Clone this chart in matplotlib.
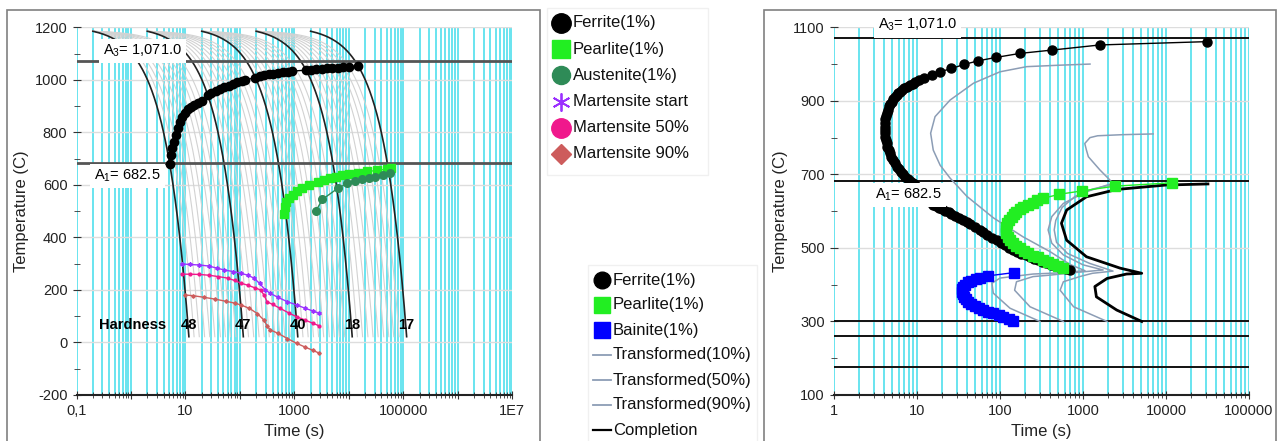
import numpy as np
import matplotlib
matplotlib.use("Agg")
import matplotlib.pyplot as plt
from matplotlib.lines import Line2D
from matplotlib.patches import Rectangle
from matplotlib.ticker import FixedLocator, FuncFormatter, LogLocator, MultipleLocator

plt.rcParams["font.family"] = ["Liberation Sans", "DejaVu Sans"]
plt.rcParams["mathtext.default"] = "regular"
plt.rcParams["axes.unicode_minus"] = False

# ---------------- data: CCT diagram (left) ----------------
a3_temp = 1071.0
a1_temp = 682.5

cool_start_temp = 1185
cool_end_temp = 22
cool_start_time = [0.2, 2, 20, 200, 2000]          # s
black_rates = [102, 10.2, 1.02, 0.102, 0.0102]      # C/s
fan_ratio = [0.8, 0.64, 0.51, 0.41, 0.33, 0.26, 0.21, 0.17, 0.135]
hardness = [48, 47, 40, 18, 17]

cct_ferrite_time = [5.3, 5.5, 5.8, 6.2, 6.7, 7.3, 8.0, 8.8, 9.8, 11, 12.5, 14.5, 17, 20,
                    25.9, 30, 36, 43, 52, 62, 75, 90, 108, 125,
                    194, 230, 280, 340, 410, 500, 620, 760, 900,
                    1660, 2000, 2500, 3200, 4000, 5000, 6300, 8000, 10000, 15000]
cct_ferrite_temp = [680, 712, 740, 765, 790, 815, 838, 858, 875, 888, 897, 905, 912, 920,
                    941, 950, 958, 965, 972, 978, 984, 990, 996, 1000,
                    1008, 1013, 1017, 1021, 1024, 1027, 1029, 1031, 1033,
                    1037, 1039, 1041, 1043, 1044, 1045, 1046, 1047, 1048, 1052]

cct_pearlite_time = [640, 680, 720, 800, 950, 1100, 1400, 1900, 2700, 3500, 4500, 5800,
                     7500, 10000, 15000, 22000, 33000, 50000, 60000]
cct_pearlite_temp = [490, 515, 535, 550, 562, 575, 590, 600, 611, 618, 625, 630,
                     636, 641, 646, 651, 655, 660, 665]

cct_austenite_time = [2500, 3300, 6300, 9500, 13000, 17800, 24000, 31000, 42000, 57000]
cct_austenite_temp = [501, 545, 587, 606, 614, 621, 627, 631, 638, 644]

ms_time = [8.5, 12, 18, 27, 38, 52, 75, 104, 140, 182, 230, 295, 363, 500, 750, 1100, 1600, 2200, 2900]
ms_temp = [299, 297, 295, 291, 283, 276, 270, 264, 256, 245, 225, 200, 187, 172, 155, 143, 130, 120, 111]
m50_time = [8.5, 12, 18, 27, 40, 60, 80, 104, 140, 190, 240, 280, 316, 400, 550, 800, 1100, 1600, 2200, 2900]
m50_temp = [260, 260, 259, 256, 251, 245, 236, 226, 218, 208, 200, 180, 155, 145, 130, 112, 98, 85, 73, 63]
m90_time = [9.8, 14, 22, 35, 55, 80, 104, 150, 210, 275, 320, 363, 500, 750, 1100, 1600, 2200, 2900]
m90_temp = [181, 178, 172, 165, 157, 150, 143, 130, 110, 86, 62, 48, 35, 15, -3, -18, -30, -41]

# ---------------- data: TTT diagram (right) ----------------
ttt_hlines = [300, 260, 175]

ttt_ferrite_time = [31000, 1600, 420, 174, 89, 55, 37, 26, 19, 15,
                    12, 10.5, 9.5, 8.9, 8.3, 7.5, 7.0, 6.6, 6.3, 5.96,
                    5.7, 5.4, 5.2, 4.95, 4.75, 4.6, 4.45, 4.3, 4.2, 4.15,
                    4.1, 4.08, 4.08, 4.1, 4.12, 4.2, 4.3, 4.4, 4.55, 4.7,
                    4.9, 5.1, 5.4, 5.7, 6.0, 6.4, 6.8, 7.2, 7.8, 8.3,
                    8.9, 9.5, 10.3, 11, 11.8, 12.6, 13.5, 14.4, 15.7, 17,
                    18.5, 20, 22, 24, 26, 29, 32, 36, 40, 44,
                    50, 57, 63, 70, 80, 91, 102, 115, 130, 145,
                    162, 180, 205, 229, 255, 290, 325, 363, 410, 470,
                    510, 560, 620, 700]
ttt_ferrite_temp = [1061, 1052, 1038, 1029, 1018, 1009, 999, 988, 979, 970,
                    961, 956, 952, 947, 943, 938, 934, 929, 925, 920,
                    915, 910, 904, 898, 892, 885, 876, 866, 858, 850,
                    840, 830, 821, 812, 803, 793, 784, 775, 766, 757,
                    748, 740, 730, 721, 714, 707, 700, 694, 688, 682,
                    676, 671, 663, 655, 648, 640, 632, 625, 617, 613,
                    609, 605, 601, 597, 592, 588, 582, 576, 570, 564,
                    557, 549, 543, 536, 528, 521, 514, 507, 500, 494,
                    489, 484, 480, 476, 471, 467, 462, 458, 454, 450,
                    447, 445, 442, 440]

ttt_pearlite_time = [11700, 2430, 966, 520, 333, 280, 248, 215, 190, 172,
                     158, 147, 138, 129, 122, 119, 117, 119, 125, 133,
                     145, 158, 174, 195, 220, 252, 290, 333, 380, 440,
                     505, 580]
ttt_pearlite_temp = [677, 668, 655, 646, 635, 629, 623, 617, 612, 605,
                     598, 592, 585, 576, 567, 558, 549, 540, 531, 522,
                     513, 506, 499, 492, 485, 479, 474, 468, 463, 457,
                     451, 445]

ttt_bainite_time = [149, 72, 57, 51, 45, 41.5, 38, 36, 35, 34.5, 35.5, 36.8, 39, 41.5,
                    45, 50, 56, 63, 72, 83, 96, 110, 127, 145]
ttt_bainite_temp = [433, 424, 419, 415, 410, 406, 400, 395, 388, 381, 374, 367, 360, 354,
                    348, 342, 336, 331, 326, 322, 317, 313, 307, 302]

t10_time = [1215, 530, 210, 100, 48, 25, 16.5, 14.6, 15.7, 19, 25, 40, 83, 190, 400, 700,
            1057, 500, 250, 100, 80, 83, 132, 303]
t10_temp = [1000, 997, 993, 979, 948, 902, 857, 812, 766, 725, 690, 640, 582, 530, 490, 455,
            438, 432, 429, 418, 404, 377, 336, 300]
t50_time = [7000, 3000, 1500, 1215, 1050, 1100, 1160, 1600, 2300, 1100, 580, 420, 380, 420,
            580, 1000, 1750, 800, 400, 250, 158, 150, 230, 580]
t50_temp = [810, 808, 805, 800, 784, 766, 748, 712, 676, 653, 621, 585, 549, 513,
            481, 454, 440, 433, 426, 422, 408, 385, 340, 300]
t90_time = [2400, 1300, 800, 560, 470, 450, 480, 650, 1200, 2300, 1300, 912, 580, 530, 770, 1950]
t90_temp = [674, 660, 640, 610, 575, 549, 515, 485, 458, 437, 431, 422, 408, 385, 340, 300]
done_time = [32000, 10000, 2550, 1100, 635, 550, 635, 1100, 2800, 5100, 3350, 1950, 1390,
             1450, 2550, 5100]
done_temp = [674, 671, 659, 639, 603, 567, 521, 476, 445, 431, 429, 417, 395, 367, 331, 300]

# ---------------- colours ----------------
CYAN = "#40DCEB"
FAN = "#D2D2D2"
LIME = "#22EE22"
SEA = "#2E8B57"
PURPLE = "#9B30FF"
PINK = "#F0188C"
IRED = "#CD5C5C"
BLUE = "#0000FF"
SLATE = "#8C9DB5"

W, H = 1281, 441
fig = plt.figure(figsize=(W / 100, H / 100), dpi=100)


def fx(x):
    return x / W


def fy(y):
    return 1 - y / H


ax1 = fig.add_axes([fx(76.5), fy(395), fx(512) - fx(76.5), fy(27.3) - fy(395)])
ax2 = fig.add_axes([fx(834), fy(395), fx(1249) - fx(834), fy(27.3) - fy(395)])


def style_axes(ax):
    ax.set_xscale("log")
    for s in ["top", "right", "left"]:
        ax.spines[s].set_visible(False)
    ax.spines["bottom"].set_color("#222222")
    ax.spines["bottom"].set_linewidth(1.5)
    ax.xaxis.set_minor_locator(LogLocator(base=10, subs=np.arange(2, 10), numticks=100))
    ax.grid(True, which="both", axis="x", color=CYAN, lw=1.1)
    ax.grid(True, which="major", axis="y", color="#DDDDDD", lw=1)
    ax.set_axisbelow(True)
    ax.tick_params(which="both", direction="inout", color="#333333")
    ax.tick_params(which="major", length=6, labelsize=10.5, labelcolor="#222222")
    ax.tick_params(which="minor", length=4)
    ax.set_xlabel("Time (s)", fontsize=12, color="#222222")
    ax.set_ylabel("Temperature (C)", fontsize=12, color="#222222")


# ---------------- left: CCT ----------------
style_axes(ax1)
ax1.set_xlim(0.1, 1e7)
ax1.set_ylim(-200, 1200)
ax1.yaxis.set_major_locator(MultipleLocator(200))
ax1.yaxis.set_minor_locator(MultipleLocator(100))
ax1.xaxis.set_major_locator(FixedLocator([10.0 ** k for k in range(-1, 8)]))
cct_labels = {-1: "0,1", 1: "10", 3: "1000", 5: "100000", 7: "1E7"}
ax1.xaxis.set_major_formatter(FuncFormatter(
    lambda v, p: cct_labels.get(int(round(np.log10(v))), "")))

for g, (t0, r) in enumerate(zip(cool_start_time, black_rates)):
    if g < len(cool_start_time) - 1:
        for fr in fan_ratio:
            rr = r * fr
            t = np.linspace(t0, t0 + (cool_start_temp - cool_end_temp) / rr, 300)
            ax1.plot(t, cool_start_temp - rr * (t - t0), color=FAN, lw=0.8, zorder=1)
for g, (t0, r) in enumerate(zip(cool_start_time, black_rates)):
    t_end = t0 + (cool_start_temp - cool_end_temp) / r
    t = np.linspace(t0, t_end, 400)
    ax1.plot(t, cool_start_temp - r * (t - t0), color="#222222", lw=1.2, zorder=2)
    ax1.text(t_end, 65, str(hardness[g]), fontsize=10.5, fontweight="bold",
             ha="center", va="center", zorder=6)
ax1.text(1.05, 65, "Hardness", fontsize=10.5, fontweight="bold",
         ha="center", va="center", zorder=6)

ax1.axhline(a3_temp, color="#555555", lw=2, zorder=3)
ax1.axhline(a1_temp, color="#555555", lw=2, zorder=3)
ax1.text(0.31, 1110, "A$_3$= 1,071.0", fontsize=10.5, va="center", zorder=7,
         bbox=dict(fc="white", ec="none", pad=3))
ax1.text(0.21, 634, "A$_1$= 682.5", fontsize=10.5, va="center", zorder=7,
         bbox=dict(fc="white", ec="none", pad=3))

ax1.plot(cct_ferrite_time, cct_ferrite_temp, color="black", lw=1, marker="o", ms=6, zorder=5)
ax1.plot(cct_pearlite_time, cct_pearlite_temp, color=LIME, lw=1, marker="s", ms=5.5, zorder=5)
ax1.plot(cct_austenite_time, cct_austenite_temp, color=SEA, lw=1, marker="o", ms=5.5, zorder=5)
ax1.plot(ms_time, ms_temp, color=PURPLE, lw=1, marker=(6, 2, 0), ms=3, zorder=5)
ax1.plot(m50_time, m50_temp, color=PINK, lw=1, marker="o", ms=2, zorder=5)
ax1.plot(m90_time, m90_temp, color=IRED, lw=1, marker="D", ms=1.8, zorder=5)

# ---------------- right: TTT ----------------
style_axes(ax2)
ax2.set_xlim(1, 1e5)
ax2.set_ylim(100, 1100)
ax2.yaxis.set_major_locator(FixedLocator([100, 300, 500, 700, 900, 1100]))
ax2.yaxis.set_minor_locator(FixedLocator([200, 400, 600, 800, 1000]))
ax2.xaxis.set_major_locator(FixedLocator([10.0 ** k for k in range(0, 6)]))
ax2.xaxis.set_major_formatter(FuncFormatter(lambda v, p: "%d" % round(v)))

for temp in [a3_temp, a1_temp] + ttt_hlines:
    ax2.axhline(temp, color="#111111", lw=1.4, zorder=3)
ax2.text(3.4, 1106, "A$_3$= 1,071.0", fontsize=10.5, va="center", zorder=7, clip_on=False,
         bbox=dict(fc="white", ec="none", pad=3))
ax2.text(3.12, 644, "A$_1$= 682.5", fontsize=10.5, va="center", zorder=7,
         bbox=dict(fc="white", ec="none", pad=3))

for tt, TT in [(t10_time, t10_temp), (t50_time, t50_temp), (t90_time, t90_temp)]:
    ax2.plot(tt, TT, color=SLATE, lw=1.1, zorder=4)
ax2.plot(done_time, done_temp, color="black", lw=2, zorder=4)
ax2.plot(ttt_ferrite_time, ttt_ferrite_temp, color="black", lw=1, marker="o", ms=6.5, zorder=5)
ax2.plot(ttt_pearlite_time, ttt_pearlite_temp, color=LIME, lw=1, marker="s", ms=6.5, zorder=5)
ax2.plot(ttt_bainite_time, ttt_bainite_temp, color=BLUE, lw=1, marker="s", ms=6.5, zorder=5)

# ---------------- frames and legends ----------------
for x0, x1 in [(7, 540), (764, 1276)]:
    fig.add_artist(Rectangle((fx(x0), fy(460)), fx(x1) - fx(x0), fy(10) - fy(460),
                             transform=fig.transFigure, fill=False, ec="#808080", lw=1.2))
fig.add_artist(Rectangle((fx(547), fy(175)), fx(708) - fx(547), fy(8) - fy(175),
                         transform=fig.transFigure, fill=False, ec="#F0F0F0", lw=1))
fig.add_artist(Rectangle((fx(588), fy(460)), fx(757) - fx(588), fy(265) - fy(460),
                         transform=fig.transFigure, fill=False, ec="#F0F0F0", lw=1))

upper_entries = [
    ("Ferrite(1%)", dict(marker="o", color="black", ms=14)),
    ("Pearlite(1%)", dict(marker="s", color=LIME, ms=13)),
    ("Austenite(1%)", dict(marker="o", color=SEA, ms=13)),
    ("Martensite start", dict(marker=(6, 2, 0), color=PURPLE, ms=13, mew=1.3)),
    ("Martensite 50%", dict(marker="o", color=PINK, ms=14)),
    ("Martensite 90%", dict(marker="D", color=IRED, ms=10)),
]
for i, (lab, kw) in enumerate(upper_entries):
    y = 23 + i * 26.2
    fig.add_artist(Line2D([fx(561)], [fy(y)], transform=fig.transFigure, ls="none", **kw))
    fig.text(fx(573), fy(y), lab, fontsize=12, va="center", color="#111111")

lower_entries = [
    ("Ferrite(1%)", dict(marker="o", color="black", ms=12, ls="none")),
    ("Pearlite(1%)", dict(marker="s", color=LIME, ms=12, ls="none")),
    ("Bainite(1%)", dict(marker="s", color=BLUE, ms=12, ls="none")),
    ("Transformed(10%)", dict(color=SLATE, lw=1.3)),
    ("Transformed(50%)", dict(color=SLATE, lw=1.3)),
    ("Transformed(90%)", dict(color=SLATE, lw=1.3)),
    ("Completion", dict(color="black", lw=1.6)),
]
for i, (lab, kw) in enumerate(lower_entries):
    y = 280 + i * 25
    if "marker" in kw:
        fig.add_artist(Line2D([fx(602)], [fy(y)], transform=fig.transFigure, **kw))
    else:
        fig.add_artist(Line2D([fx(593), fx(611)], [fy(y), fy(y)], transform=fig.transFigure, **kw))
    fig.text(fx(613), fy(y), lab, fontsize=12, va="center", color="#111111")

fig.savefig("out.png", dpi=100)
